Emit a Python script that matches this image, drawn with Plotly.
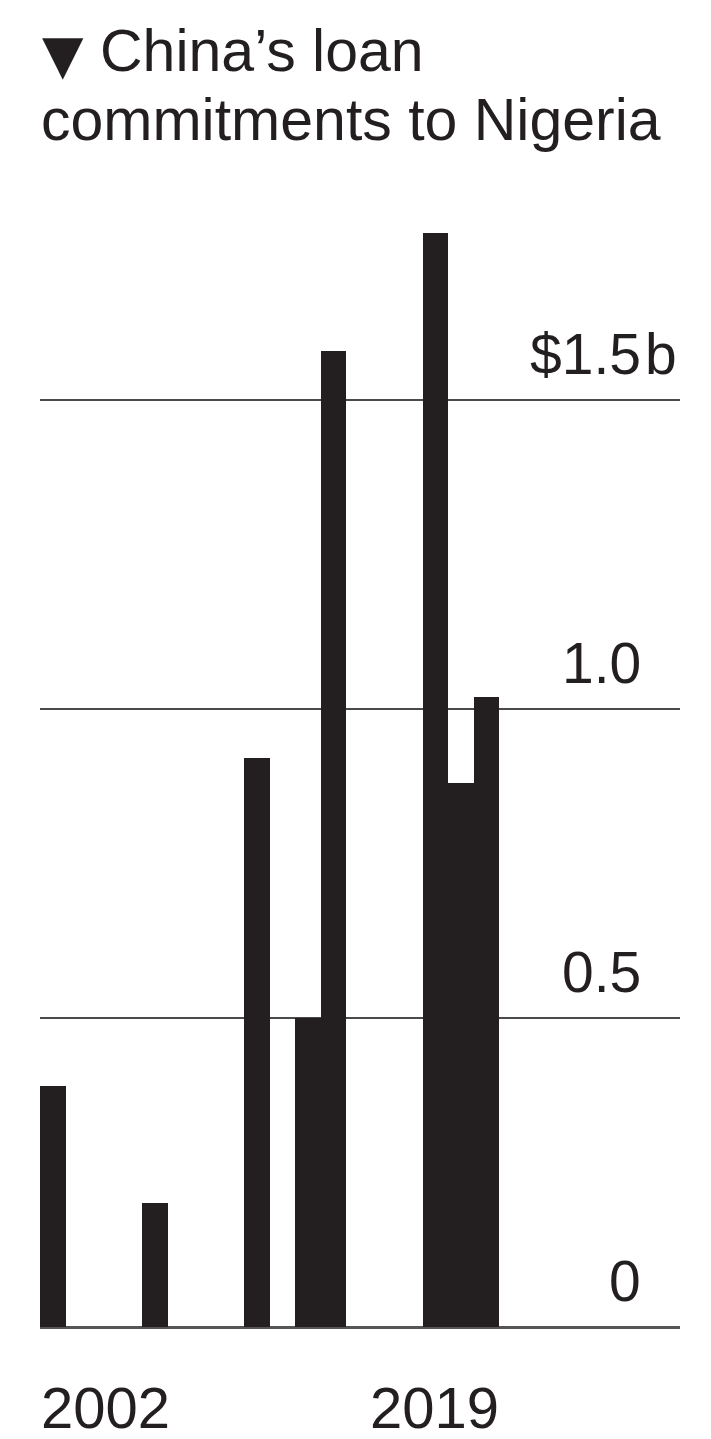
import plotly.graph_objects as go

# Annual Chinese loan commitments to Nigeria, billions of US dollars
years = list(range(2002, 2020))
loans = [0.39, 0, 0, 0, 0.20, 0, 0, 0, 0.92, 0, 0.50, 1.58, 0, 0, 0, 1.77, 0.88, 1.02]

# Value-axis gridlines and their labels
grid_vals = [0, 0.5, 1.0, 1.5]
grid_labels = ["0", "0.5", "1.0", "$1.5"]
unit_suffix = "b"

title_marker = "▼"
title_lines = ["China’s loan", "commitments to Nigeria"]
year_labels = ["2002", "2019"]

INK = "#231f20"
FONT = "Liberation Sans, Arial, Helvetica, sans-serif"
W, H = 711, 1439
ML, MR, MT, MB = 40, 31, 200, 112
px_per_year = 25.5
px_per_unit = 618.0
plot_w = W - ML - MR
plot_h = H - MT - MB

fig = go.Figure(
    go.Bar(
        x=years,
        y=loans,
        width=1.0,
        marker=dict(color=INK, line=dict(width=0)),
        hoverinfo="x+y",
    )
)

label_x = (643 - ML) / plot_w  # right edge of the numeric part of the labels

annotations = []
for v, lab in zip(grid_vals, grid_labels):
    annotations.append(dict(
        text=lab, xref="paper", yref="y", x=label_x, y=v,
        xanchor="right", yanchor="bottom", yshift=12, showarrow=False,
        font=dict(family=FONT, size=57, color=INK),
    ))
annotations.append(dict(
    text=unit_suffix, xref="paper", yref="y", x=label_x, y=grid_vals[-1],
    xanchor="left", yanchor="bottom", yshift=12, showarrow=False,
    font=dict(family=FONT, size=57, color=INK),
))

# First and last year under the bars
annotations.append(dict(
    text=year_labels[0], xref="x", yref="paper", x=years[0] - 0.5, y=0,
    xanchor="left", yanchor="top", yshift=-46, xshift=-1, showarrow=False,
    font=dict(family=FONT, size=58, color=INK),
))
annotations.append(dict(
    text=year_labels[1], xref="x", yref="paper", x=years[-1] + 0.5, y=0,
    xanchor="right", yanchor="top", yshift=-46, xshift=2, showarrow=False,
    font=dict(family=FONT, size=58, color=INK),
))

# Heading: marker glyph plus two lines set with tighter leading
annotations.append(dict(
    text=title_marker, xref="paper", yref="paper",
    x=0, y=1, xanchor="left", yanchor="bottom", yshift=112, xshift=0,
    showarrow=False,
    font=dict(family="DejaVu Sans", size=54, color=INK),
))
annotations.append(dict(
    text=title_lines[0], xref="paper", yref="paper",
    x=0, y=1, xanchor="left", yanchor="bottom", yshift=114, xshift=58,
    showarrow=False,
    font=dict(family=FONT, size=59, color=INK),
))
annotations.append(dict(
    text=title_lines[1], xref="paper", yref="paper",
    x=0, y=1, xanchor="left", yanchor="bottom", yshift=45, xshift=-1,
    showarrow=False,
    font=dict(family=FONT, size=59, color=INK),
))

fig.update_layout(
    width=W, height=H,
    margin=dict(l=ML, r=MR, t=MT, b=MB, pad=0),
    paper_bgcolor="white", plot_bgcolor="white",
    showlegend=False,
    bargap=0,
    annotations=annotations,
    xaxis=dict(
        range=[years[0] - 0.5, years[0] - 0.5 + plot_w / px_per_year],
        showgrid=False, zeroline=False, showticklabels=False, ticks="",
        showline=False, fixedrange=True,
    ),
    yaxis=dict(
        range=[0, plot_h / px_per_unit],
        tickvals=grid_vals[1:], showticklabels=False, ticks="",
        showgrid=True, gridcolor="#4a4a4a", gridwidth=2,
        zeroline=True, zerolinecolor="#555555", zerolinewidth=3,
        showline=False, fixedrange=True,
    ),
)

fig.write_html("out.html")
